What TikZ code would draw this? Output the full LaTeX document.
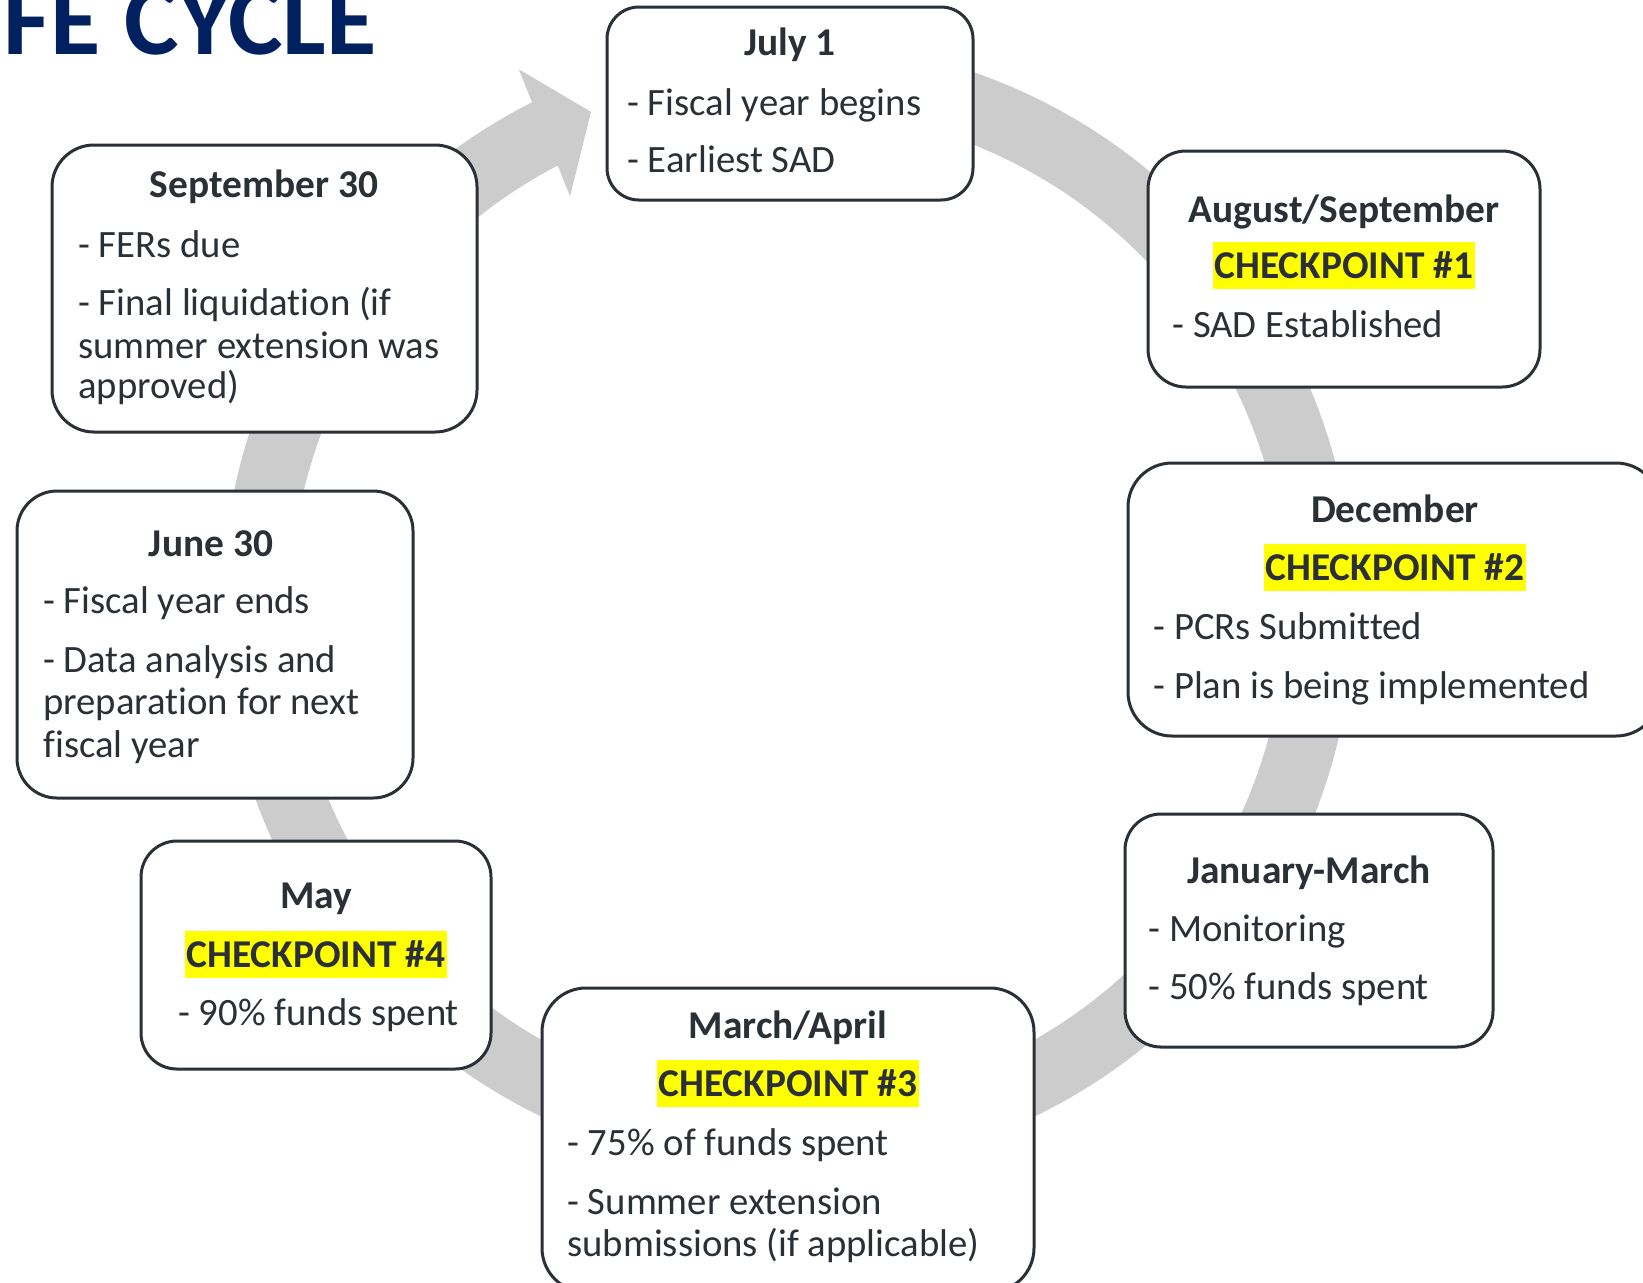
\documentclass[tikz,border=0pt]{standalone}
\usepackage{fontspec}
\setmainfont{Carlito}[Ligatures={NoCommon}]
\usetikzlibrary{calc}
\definecolor{ringgray}{HTML}{CCCCCC}
\definecolor{boxline}{HTML}{2B2F36}
\definecolor{ink}{HTML}{2B2F36}
\definecolor{hl}{HTML}{FFFF00}
\definecolor{navy}{HTML}{002060}
\newcommand\stage[6]{\node[stagebox, rounded corners=#6, minimum width={(#4-#2)*0.5pt}, minimum height={(#5-#3)*0.5pt}] (#1) at ({(#2+#4)/2},{(#3+#5)/2}) {};}
\tikzset{
  ring/.style={draw=ringgray, line width=34pt},
  stagebox/.style={draw=boxline, line width=1.5pt, fill=white, inner sep=0pt},
  body/.style={font=\fontsize{19.35}{21}\selectfont, text=ink, inner sep=0pt, anchor=base west},
  ttl/.style={font=\bfseries\fontsize{19.7}{21}\selectfont, text=ink, inner sep=0pt, anchor=base},
  cp/.style={font=\bfseries\fontsize{19.7}{21}\selectfont, text=ink, fill=hl, inner xsep=1pt, inner ysep=0pt, text height=18pt, text depth=5.5pt, anchor=base},
  ttlbig/.style={font=\bfseries\fontsize{51.5}{52}\selectfont, text=navy, inner sep=0pt, anchor=base west}
}
\begin{document}
\begin{tikzpicture}[x=0.5pt,y=-0.5pt]
\useasboundingbox (0,0) rectangle (1643,1282);
\fill[white] (0,0) rectangle (1643,1282);
\clip (0,0) rectangle (1643,1282);
% title
\node[ttlbig] (title) at (3,54) {FE CYCLE};
% ring
\coordinate (c) at (788,607);
\draw[ring] (c) ++(-80:532) coordinate (rs) arc[start angle=-80, end angle=243.2, radius=532] coordinate (re);
\coordinate (ah1) at ($(c)+(-116.6:601.5)$);
\coordinate (ah2) at ($(c)+(-111.7:533)$);
\coordinate (ah3) at ($(c)+(-117.95:465)$);
\fill[ringgray] (ah1) -- (ah2) -- (ah3) -- cycle;
% boxes
\stage{july}{607}{7}{973}{200}{16pt}
\stage{sep}{52}{145}{477}{432}{21pt}
\stage{aug}{1148}{151}{1540}{387}{19pt}
\stage{dec}{1128}{463}{1660}{736}{22pt}
\stage{jan}{1125}{814}{1493}{1047}{18pt}
\stage{mar}{542}{988}{1034}{1292}{22pt}
\stage{may}{141}{841}{491}{1069}{18pt}
\stage{jun}{17}{491}{413}{798}{20pt}
% July 1
\node[ttl] (julyt) at (790,55) {July 1};
\node[body] (julya) at (627,115) {- Fiscal year begins};
\node[body] (julyb) at (627,172) {- Earliest SAD};
% September 30
\node[ttl] (sept) at (264,197) {September 30};
\node[body] (sepa) at (78,257) {- FERs due};
\node[body] (sepb) at (78,315) {- Final liquidation (if};
\node[body] (sepc) at (78,358) {summer extension was};
\node[body] (sepd) at (78,398) {approved)};
% August/September
\node[ttl] (augt) at (1344,222) {August/September};
\node[cp] (augc) at (1344,278) {CHECKPOINT \#1};
\node[body] (auga) at (1172,337) {- SAD Established};
% December
\node[ttl] (dect) at (1395,522) {December};
\node[cp] (decc) at (1395,580) {CHECKPOINT \#2};
\node[body] (deca) at (1153,639) {- PCRs Submitted};
\node[body] (decb) at (1153,698) {- Plan is being implemented};
% January-March
\node[ttl] (jant) at (1309,883) {January-March};
\node[body] (jana) at (1148,941) {- Monitoring};
\node[body] (janb) at (1148,999) {- 50\% funds spent};
% March/April
\node[ttl] (mart) at (788,1038) {March/April};
\node[cp] (marc) at (788,1096) {CHECKPOINT \#3};
\node[body] (mara) at (567,1155) {- 75\% of funds spent};
\node[body] (marb) at (567,1214) {- Summer extension};
\node[body] (marcc) at (567,1256) {submissions (if applicable)};
% May
\node[ttl] (mayt) at (316,908) {May};
\node[cp] (mayc) at (316,967) {CHECKPOINT \#4};
\node[body] (maya) at (178,1025) {- 90\% funds spent};
% June 30
\node[ttl] (junt) at (211,556) {June 30};
\node[body] (juna) at (43,613) {- Fiscal year ends};
\node[body] (junb) at (43,672) {- Data analysis and};
\node[body] (junc) at (43,714) {preparation for next};
\node[body] (jund) at (43,757) {fiscal year};
\end{tikzpicture}
\end{document}
